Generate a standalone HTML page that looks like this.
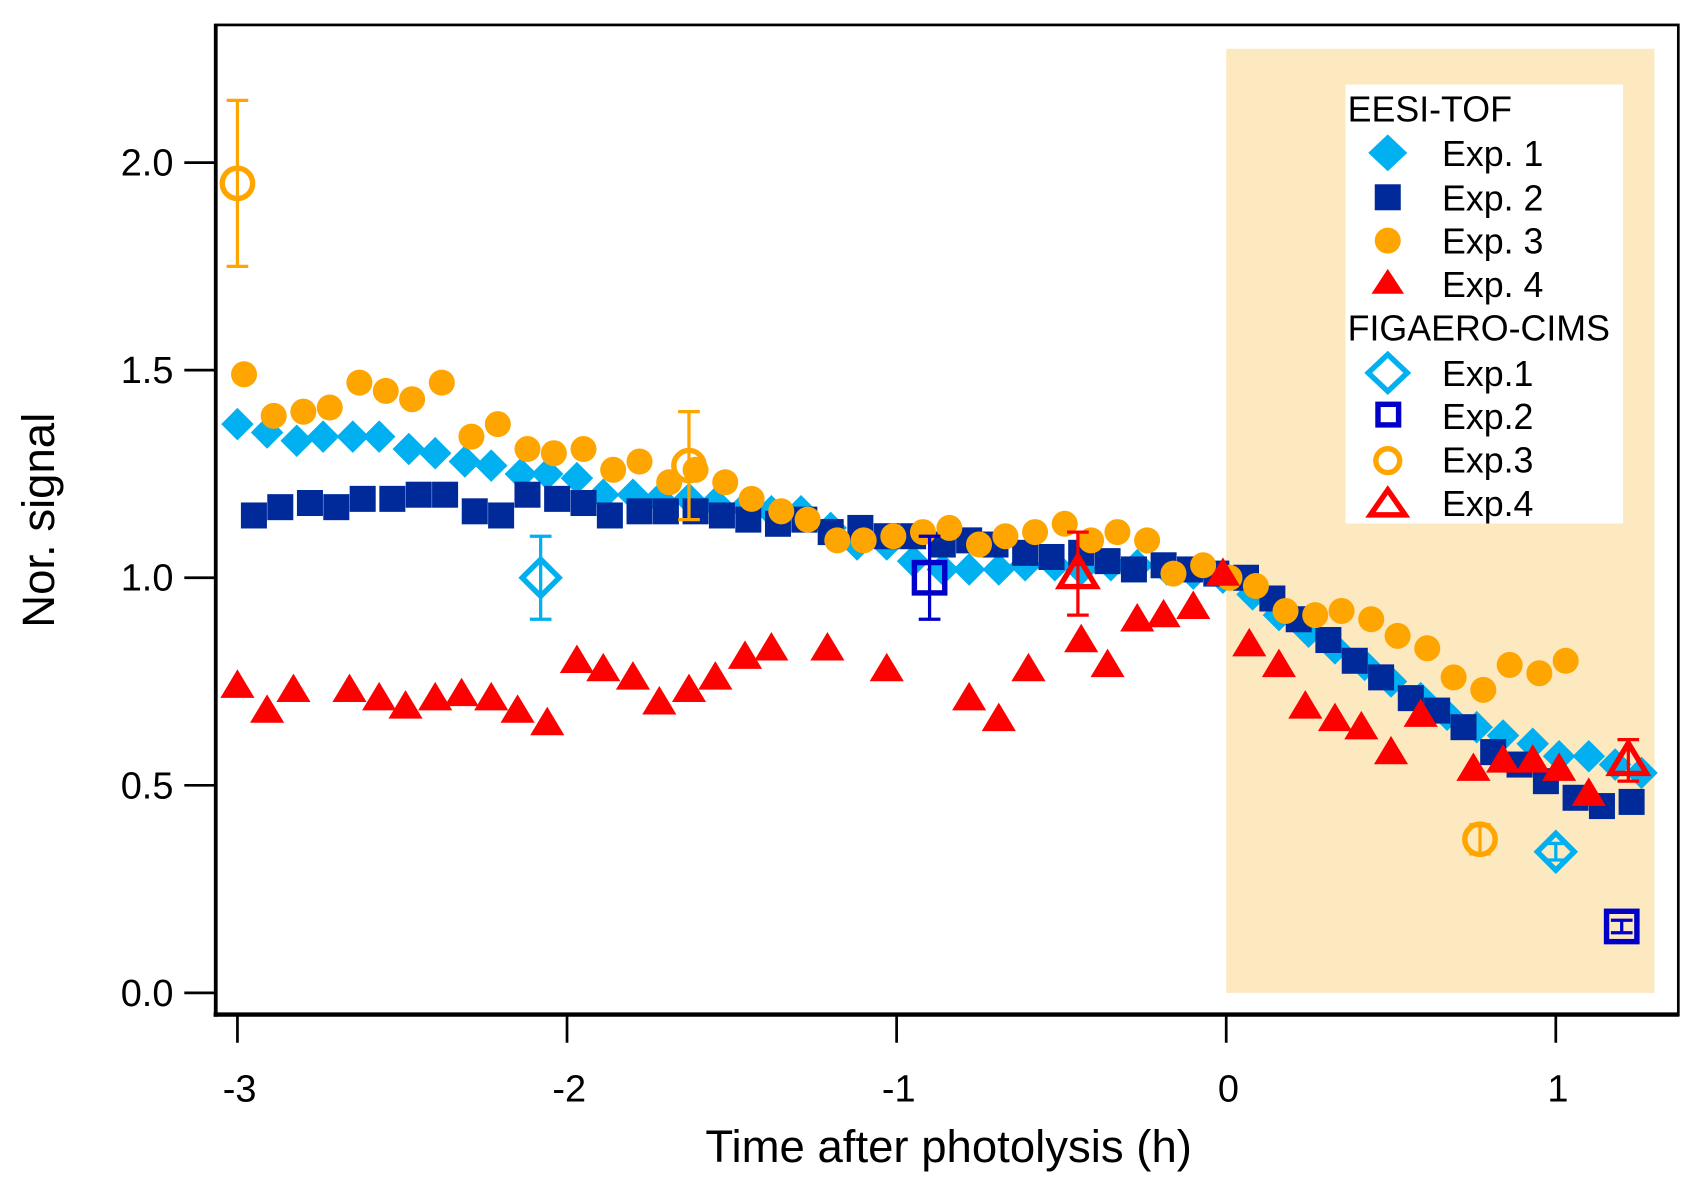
<!DOCTYPE html>
<html><head><meta charset="utf-8"><style>
html,body{margin:0;padding:0;background:#fff;}
svg{display:block;font-family:"Liberation Sans",Arial,sans-serif;}
</style></head><body>
<svg id="chart" width="1700" height="1188" viewBox="0 0 1568 1096" preserveAspectRatio="none" xmlns="http://www.w3.org/2000/svg">
<rect x="1131" y="45" width="395" height="871" fill="#fde9c0"/>
<g id="marks"></g>
<g id="axes"></g>
<g>
<rect x="1241" y="78" width="256" height="405" fill="#fff"/>
<text x="1243" y="112" font-size="33">EESI-TOF</text>
<polygon points="1280,124 1298,141 1280,158 1262,141" fill="#00b0f0"/>
<text x="1330" y="153" font-size="33">Exp. 1</text>
<rect x="1268" y="170" width="24" height="24" fill="#002a9a"/>
<text x="1330" y="194" font-size="33">Exp. 2</text>
<circle cx="1280" cy="222" r="12" fill="#ffa500"/>
<text x="1330" y="234" font-size="33">Exp. 3</text>
<polygon points="1280,248 1295,271 1265,271" fill="#f00"/>
<text x="1330" y="274" font-size="33">Exp. 4</text>
<text x="1243" y="314" font-size="33">FIGAERO-CIMS</text>
<polygon points="1280,327 1298,344 1280,361 1262,344" fill="none" stroke="#00b0f0" stroke-width="5"/>
<text x="1330" y="356" font-size="33">Exp.1</text>
<rect x="1271" y="373" width="19" height="19" fill="none" stroke="#0000c8" stroke-width="5"/>
<text x="1330" y="396" font-size="33">Exp.2</text>
<circle cx="1280" cy="425" r="11" fill="none" stroke="#ffa500" stroke-width="5"/>
<text x="1330" y="436" font-size="33">Exp.3</text>
<polygon points="1280,452 1296,475 1264,475" fill="none" stroke="#f00" stroke-width="5"/>
<text x="1330" y="476" font-size="33">Exp.4</text>
</g>
</svg>
<script>
const xTicks = [-3, -2, -1, 0, 1];
const yTicks = [0, 0.5, 1.0, 1.5, 2.0];
const yTickLabels = ["0.0", "0.5", "1.0", "1.5", "2.0"];
const e1T = [-3.0,-2.91,-2.82,-2.74,-2.65,-2.57,-2.48,-2.40,-2.31,-2.23,-2.14,-2.06,-1.97,-1.89,-1.80,-1.72,-1.63,-1.55,-1.46,-1.38,-1.29,-1.20,-1.12,-1.03,-0.95,-0.86,-0.78,-0.69,-0.61,-0.52,-0.44,-0.35,-0.27,-0.18,-0.10,-0.01,0.08,0.16,0.25,0.33,0.42,0.50,0.59,0.67,0.76,0.84,0.93,1.01,1.10,1.18,1.26];
const e1V = [1.37,1.35,1.33,1.34,1.34,1.34,1.31,1.30,1.28,1.27,1.25,1.25,1.24,1.20,1.20,1.19,1.19,1.18,1.17,1.16,1.16,1.12,1.08,1.08,1.04,1.02,1.02,1.02,1.03,1.03,1.02,1.03,1.03,1.02,1.01,1.00,0.96,0.91,0.87,0.83,0.79,0.75,0.71,0.67,0.64,0.62,0.60,0.57,0.57,0.55,0.53];
const e2T = [-2.95,-2.87,-2.78,-2.70,-2.62,-2.53,-2.45,-2.37,-2.28,-2.20,-2.12,-2.03,-1.95,-1.87,-1.78,-1.70,-1.61,-1.53,-1.45,-1.36,-1.28,-1.20,-1.11,-1.03,-0.95,-0.86,-0.78,-0.70,-0.61,-0.53,-0.44,-0.36,-0.28,-0.19,-0.11,-0.03,0.06,0.14,0.22,0.31,0.39,0.47,0.56,0.64,0.72,0.81,0.89,0.97,1.06,1.14,1.23];
const e2V = [1.15,1.17,1.18,1.17,1.19,1.19,1.20,1.20,1.16,1.15,1.20,1.19,1.18,1.15,1.16,1.16,1.16,1.15,1.14,1.13,1.14,1.11,1.12,1.10,1.10,1.08,1.09,1.08,1.06,1.05,1.06,1.04,1.02,1.03,1.02,1.01,1.00,0.95,0.90,0.85,0.80,0.76,0.71,0.68,0.64,0.58,0.55,0.51,0.47,0.45,0.46];
const e3T = [-2.98,-2.89,-2.80,-2.72,-2.63,-2.55,-2.47,-2.38,-2.29,-2.21,-2.12,-2.04,-1.95,-1.86,-1.78,-1.69,-1.61,-1.52,-1.44,-1.35,-1.27,-1.18,-1.10,-1.01,-0.92,-0.84,-0.75,-0.67,-0.58,-0.49,-0.41,-0.33,-0.24,-0.16,-0.07,0.01,0.09,0.18,0.27,0.35,0.44,0.52,0.61,0.69,0.78,0.86,0.95,1.03];
const e3V = [1.49,1.39,1.40,1.41,1.47,1.45,1.43,1.47,1.34,1.37,1.31,1.30,1.31,1.26,1.28,1.23,1.26,1.23,1.19,1.16,1.14,1.09,1.09,1.10,1.11,1.12,1.08,1.10,1.11,1.13,1.09,1.11,1.09,1.01,1.03,1.00,0.98,0.92,0.91,0.92,0.90,0.86,0.83,0.76,0.73,0.79,0.77,0.80];
const e4T = [-3.0,-2.91,-2.83,-2.66,-2.57,-2.49,-2.40,-2.32,-2.23,-2.15,-2.06,-1.97,-1.89,-1.80,-1.72,-1.63,-1.55,-1.46,-1.38,-1.21,-1.03,-0.78,-0.69,-0.60,-0.44,-0.36,-0.27,-0.19,-0.10,-0.01,0.07,0.16,0.24,0.33,0.41,0.50,0.59,0.75,0.84,0.93,1.01,1.10];
const e4V = [0.74,0.68,0.73,0.73,0.71,0.69,0.71,0.72,0.71,0.68,0.65,0.80,0.78,0.76,0.70,0.73,0.76,0.81,0.83,0.83,0.78,0.71,0.66,0.78,0.85,0.79,0.90,0.91,0.93,1.01,0.84,0.79,0.69,0.66,0.64,0.58,0.67,0.54,0.56,0.56,0.54,0.48];
const f1T = [-2.08, 1.00], f1V = [1.00, 0.34], f1E = [0.10, 0.02];
const f2T = [-0.90, 1.20], f2V = [1.00, 0.16], f2E = [0.10, 0.015];
const f3T = [-3.00, -1.63, 0.77], f3V = [1.95, 1.27, 0.37], f3E = [0.20, 0.13, 0.035];
const f4T = [-0.45, 1.22], f4V = [1.01, 0.56], f4E = [0.10, 0.05];

const NS = "http://www.w3.org/2000/svg";
const X = t => 1131 + 304 * t;
const Y = v => 916 - 383 * v;
const marks = document.getElementById('marks');
const axes = document.getElementById('axes');
function mk(tag, attrs, parent) {
  const el = document.createElementNS(NS, tag);
  for (const k in attrs) el.setAttribute(k, attrs[k]);
  parent.appendChild(el);
  return el;
}
function diamond(cx, cy, r) { return `${cx},${cy-r} ${cx+r},${cy} ${cx},${cy+r} ${cx-r},${cy}`; }
function tri(cx, cy, r) { return `${cx},${cy-r} ${cx+r*1.05},${cy+r*0.75} ${cx-r*1.05},${cy+r*0.75}`; }

e1T.forEach((t, i) => {
  const el = mk('polygon', {points: diamond(X(t), Y(e1V[i]), 15), fill: '#00b0f0'}, marks);
  
  
});
e2T.forEach((t, i) => {
  const el = mk('rect', {x: X(t) - 12, y: Y(e2V[i]) - 12, width: 24, height: 24, fill: '#002a9a'}, marks);
  
  
});
e3T.forEach((t, i) => {
  const el = mk('circle', {cx: X(t), cy: Y(e3V[i]), r: 12, fill: '#ffa500'}, marks);
  
  
});
e4T.forEach((t, i) => {
  const el = mk('polygon', {points: tri(X(t), Y(e4V[i]), 15), fill: '#ff0000'}, marks);
  
  
});
function errbar(t, v, e, color, name) {
  const g = mk('g', {stroke: color, 'stroke-width': 3}, marks);
  
  
  const x = X(t), y1 = Y(v + e), y2 = Y(v - e);
  mk('line', {x1: x, x2: x, y1: y1, y2: y2}, g);
  mk('line', {x1: x - 10, x2: x + 10, y1: y1, y2: y1}, g);
  mk('line', {x1: x - 10, x2: x + 10, y1: y2, y2: y2}, g);
  return g;
}
f1T.forEach((t, i) => {
  errbar(t, f1V[i], f1E[i], '#00b0f0', 'figaero-exp1-errorbar');
  const el = mk('polygon', {points: diamond(X(t), Y(f1V[i]), 17), fill: 'none', stroke: '#00b0f0', 'stroke-width': 5}, marks);
  
  
});
f2T.forEach((t, i) => {
  errbar(t, f2V[i], f2E[i], '#0000c8', 'figaero-exp2-errorbar');
  const el = mk('rect', {x: X(t) - 14, y: Y(f2V[i]) - 14, width: 28, height: 28, fill: 'none', stroke: '#0000c8', 'stroke-width': 5}, marks);
  
  
});
f3T.forEach((t, i) => {
  errbar(t, f3V[i], f3E[i], '#ffa500', 'figaero-exp3-errorbar');
  const el = mk('circle', {cx: X(t), cy: Y(f3V[i]), r: 14, fill: 'none', stroke: '#ffa500', 'stroke-width': 5}, marks);
  
  
});
f4T.forEach((t, i) => {
  errbar(t, f4V[i], f4E[i], '#ff0000', 'figaero-exp4-errorbar');
  const el = mk('polygon', {points: tri(X(t), Y(f4V[i]), 16), fill: 'none', stroke: '#ff0000', 'stroke-width': 5}, marks);
  
  
});

const frame = mk('rect', {x: 199, y: 23, width: 1349, height: 913, fill: 'none', stroke: '#000', 'stroke-width': 2.5}, axes);


const xl = mk('line', {x1: 197, x2: 1549, y1: 936, y2: 936, stroke: '#000', 'stroke-width': 4}, axes);


const yl = mk('line', {x1: 199, x2: 199, y1: 22, y2: 938, stroke: '#000', 'stroke-width': 3.5}, axes);


xTicks.forEach(t => {
  const tk = mk('line', {x1: X(t), x2: X(t), y1: 936, y2: 962, stroke: '#000', 'stroke-width': 2.5}, axes);
  
  
  const lb = mk('text', {x: X(t) + 2, y: 1016, 'font-size': 35, 'text-anchor': 'middle'}, axes);
  lb.textContent = String(t);
  
  
});
yTicks.forEach((v, i) => {
  const tk = mk('line', {x1: 170, x2: 199, y1: Y(v), y2: Y(v), stroke: '#000', 'stroke-width': 2.5}, axes);
  
  
  const lb = mk('text', {x: 160, y: Y(v) + 12, 'font-size': 35, 'text-anchor': 'end'}, axes);
  lb.textContent = yTickLabels[i];
  
  
});
const xt = mk('text', {x: 875, y: 1072, 'font-size': 42, 'text-anchor': 'middle'}, axes);
xt.textContent = 'Time after photolysis (h)';


const yt = mk('text', {x: 0, y: 0, 'font-size': 42, 'text-anchor': 'middle', transform: 'translate(50,480) rotate(-90)'}, axes);
yt.textContent = 'Nor. signal';


</script>
</body></html>
